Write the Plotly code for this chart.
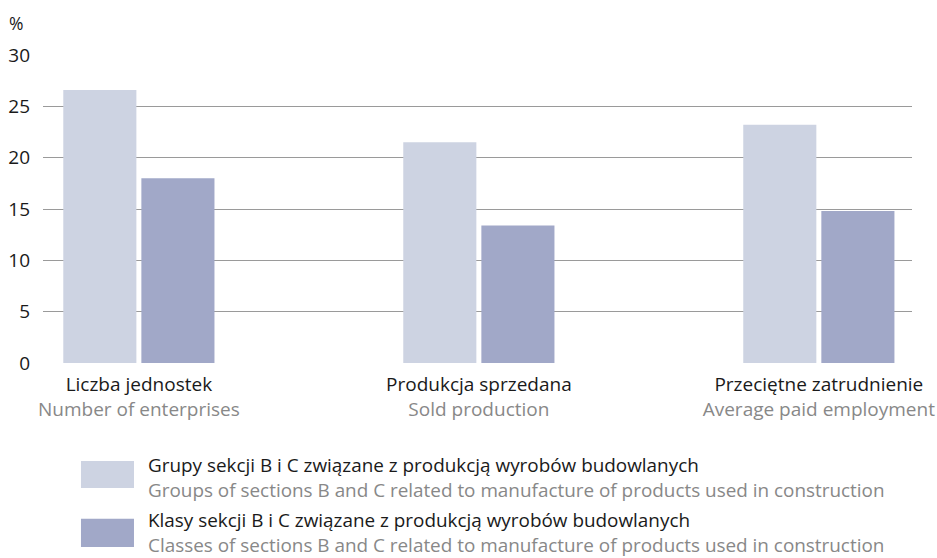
import plotly.graph_objects as go

categories_pl = ["Liczba jednostek", "Produkcja sprzedana", "Przeciętne zatrudnienie"]
categories_en = ["Number of enterprises", "Sold production", "Average paid employment"]
groups_values = [26.6, 21.5, 23.2]
classes_values = [18.0, 13.4, 14.8]
series_pl = ["Grupy sekcji B i C związane z produkcją wyrobów budowlanych",
             "Klasy sekcji B i C związane z produkcją wyrobów budowlanych"]
series_en = ["Groups of sections B and C related to manufacture of products used in construction",
             "Classes of sections B and C related to manufacture of products used in construction"]
y_ticks = [0, 5, 10, 15, 20, 25, 30]

colors = ["#CDD3E2", "#A1A8C8"]
font = "Open Sans"
grey = "#888888"

x = list(range(len(categories_pl)))
bw = 0.215
gap = 0.0147

fig = go.Figure()
fig.add_trace(go.Bar(x=x, y=groups_values, width=bw, offset=-bw - gap / 2,
                     marker=dict(color=colors[0], line=dict(width=0)), name=series_pl[0]))
fig.add_trace(go.Bar(x=x, y=classes_values, width=bw, offset=gap / 2,
                     marker=dict(color=colors[1], line=dict(width=0)), name=series_pl[1]))

ticktext = [f"{p}<br><span style='color:{grey}'>{e}</span>" for p, e in zip(categories_pl, categories_en)]

fig.update_layout(
    width=937, height=558,
    margin=dict(l=43, r=25, t=55, b=195),
    plot_bgcolor="white", paper_bgcolor="white",
    showlegend=False,
    font=dict(family=font, size=19, color="#1a1a1a"),
    xaxis=dict(range=[-0.282, 2.274], tickvals=x, ticktext=ticktext, automargin=False,
               showgrid=False, zeroline=False, showline=False, ticks="", ticklabelstandoff=8),
    yaxis=dict(range=[0, 30], tickvals=y_ticks, showgrid=True, gridcolor="#9a9a9a", automargin=False,
               gridwidth=1, zeroline=False, showline=False, ticks="", ticklabelstandoff=12),
)

fig.add_annotation(text="%", xref="paper", yref="paper", x=-0.042, y=1.105,
                   xanchor="left", yanchor="middle", showarrow=False, font=dict(size=17.5))

# legend drawn by hand: colour box + two-line label
legend_y = [(-0.406, -0.318, -0.373), (-0.597, -0.506, -0.550)]
for i, (y0, y1, yc) in enumerate(legend_y):
    fig.add_shape(type="rect", xref="paper", yref="paper", x0=0.0437, x1=0.1047,
                  y0=y0, y1=y1, fillcolor=colors[i], line=dict(width=0))
    fig.add_annotation(text=f"{series_pl[i]}<br><span style='color:{grey}'>{series_en[i]}</span>",
                       xref="paper", yref="paper", x=0.1197, y=yc, xanchor="left",
                       yanchor="middle", align="left", showarrow=False, borderpad=0,
                       font=dict(size=18.9))

fig.write_html("out.html", config={"displayModeBar": False},
               post_script="document.body.style.margin='0';")
